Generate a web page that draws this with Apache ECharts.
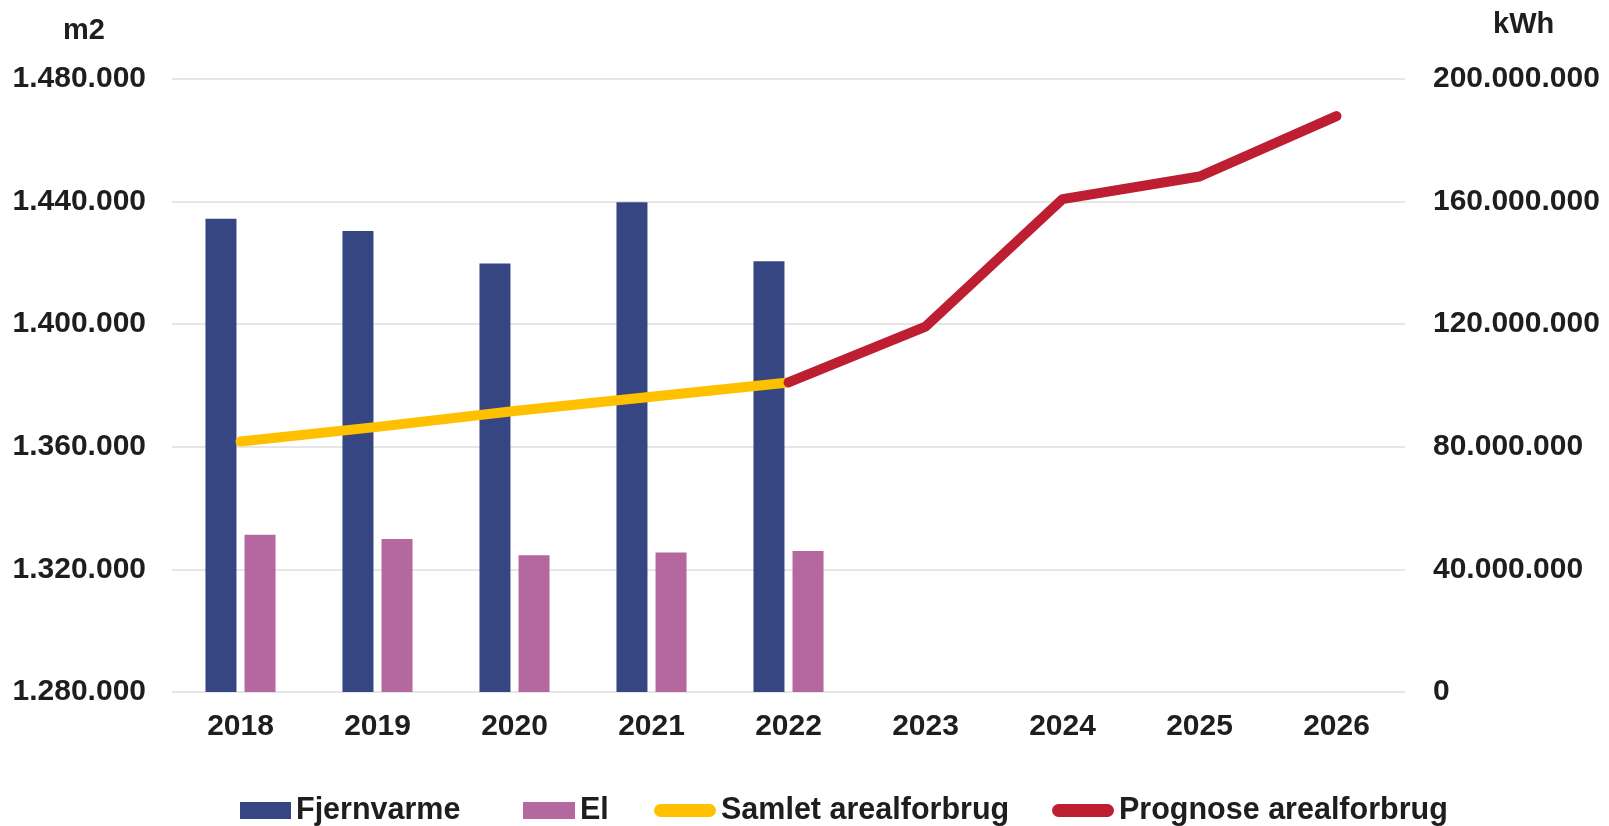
<!DOCTYPE html>
<html>
<head>
<meta charset="utf-8">
<script src="https://cdn.jsdelivr.net/npm/echarts@6/dist/echarts.min.js"></script>
<style>
html,body{margin:0;padding:0;background:#fff;}
#chart{width:1609px;height:826px;}
</style>
</head>
<body>
<div id="chart"></div>
<script>
const years = ['2018','2019','2020','2021','2022','2023','2024','2025','2026'];
const fjernvarme = [154400000, 150400000, 139800000, 159800000, 140500000];
const el = [51300000, 49900000, 44600000, 45500000, 46000000];
const samlet = [1361700, 1366500, 1371700, 1376300, 1381000];
const prognose = [null, null, null, null, 1381000, 1399200, 1440800, 1448200, 1467900];
const seriesNames = ['Fjernvarme', 'El', 'Samlet arealforbrug', 'Prognose arealforbrug'];
const leftAxisName = 'm2';
const rightAxisName = 'kWh';

const FONT = "'Liberation Sans', Arial, sans-serif";
const TXT = '#1e1e1e';
function dots(v){ return String(Math.round(v)).replace(/\B(?=(\d{3})+(?!\d))/g, '.'); }
const capsule = 'path://M6.5,0 L55.5,0 A6.5,6.5 0 0 1 55.5,13 L6.5,13 A6.5,6.5 0 0 1 6.5,0 Z';
const legText = {fontFamily: FONT, fontSize: 30.5, fontWeight: 'bold', color: TXT};

const chart = echarts.init(document.getElementById('chart'), null, {renderer: 'canvas'});
chart.setOption({
  animation: false,
  backgroundColor: '#ffffff',
  grid: {left: 172, right: 204, top: 79, bottom: 134},
  legend: [
    {data: [seriesNames[0]], left: 235, top: 790, icon: 'rect', itemWidth: 51, itemHeight: 17, textStyle: legText},
    {data: [seriesNames[1]], left: 518, top: 790, icon: 'rect', itemWidth: 52, itemHeight: 17, textStyle: legText},
    {data: [seriesNames[2]], left: 649, top: 790, icon: capsule, itemWidth: 62, itemHeight: 13, textStyle: legText},
    {data: [seriesNames[3]], left: 1047, top: 790, icon: capsule, itemWidth: 62, itemHeight: 13, textStyle: legText}
  ],
  xAxis: {
    type: 'category',
    data: years,
    boundaryGap: true,
    axisLine: {show: false},
    axisTick: {show: false},
    axisLabel: {margin: 20, fontFamily: FONT, fontSize: 30, fontWeight: 'bold', color: TXT}
  },
  yAxis: [
    {
      type: 'value', min: 1280000, max: 1480000, interval: 40000,
      name: leftAxisName, nameLocation: 'end', nameGap: 34,
      nameTextStyle: {fontFamily: FONT, fontSize: 29, fontWeight: 'bold', color: TXT, align: 'right', padding: [0, 67, 0, 0]},
      axisLine: {show: false}, axisTick: {show: false},
      axisLabel: {margin: 26, fontFamily: FONT, fontSize: 30, fontWeight: 'bold', color: TXT, formatter: dots},
      splitLine: {show: true, lineStyle: {color: '#e6e6e6', width: 2}}
    },
    {
      type: 'value', min: 0, max: 200000000, interval: 40000000,
      name: rightAxisName, nameLocation: 'end', nameGap: 40,
      nameTextStyle: {fontFamily: FONT, fontSize: 29, fontWeight: 'bold', color: TXT, align: 'left', padding: [0, 0, 0, 88]},
      axisLine: {show: false}, axisTick: {show: false},
      axisLabel: {margin: 28, fontFamily: FONT, fontSize: 30, fontWeight: 'bold', color: TXT, formatter: dots},
      splitLine: {show: false}
    }
  ],
  series: [
    {name: seriesNames[0], type: 'bar', yAxisIndex: 1, data: fjernvarme, barWidth: 31, barGap: '26%', itemStyle: {color: '#364682'}},
    {name: seriesNames[1], type: 'bar', yAxisIndex: 1, data: el, barWidth: 31, barGap: '26%', itemStyle: {color: '#b4689f'}},
    {name: seriesNames[2], type: 'line', yAxisIndex: 0, data: samlet, symbol: 'none', itemStyle: {color: '#ffc000'},
     lineStyle: {color: '#ffc000', width: 10, cap: 'round', join: 'round'}},
    {name: seriesNames[3], type: 'line', yAxisIndex: 0, data: prognose, symbol: 'none', connectNulls: false, itemStyle: {color: '#be1e32'},
     lineStyle: {color: '#be1e32', width: 10, cap: 'round', join: 'round'}}
  ]
});
</script>
</body>
</html>
